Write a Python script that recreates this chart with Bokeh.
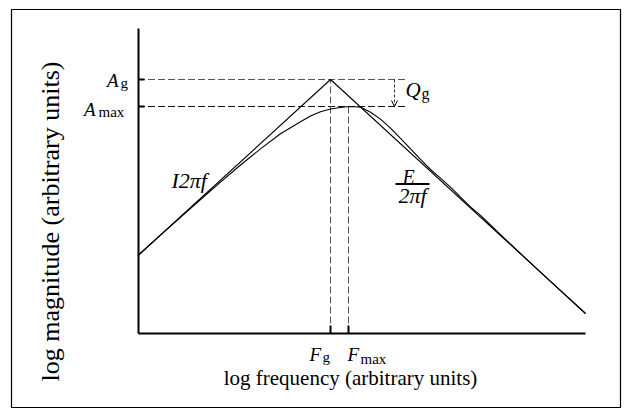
import math
from bokeh.plotting import figure
from bokeh.models import (LinearAxis, FixedTicker, CustomJSTickFormatter, Label,
                          Arrow, OpenHead, Range1d)
from bokeh.embed import file_html
from bokeh.resources import INLINE

# ---------------- data (log units, arbitrary) ----------------
freq_curve = [0.0, 0.503, 0.950, 1.397, 1.844, 2.291, 2.737, 3.184, 3.631, 3.855,
              4.078, 4.302, 4.525, 4.704, 4.860, 4.972, 5.196, 5.419, 5.642, 5.866,
              6.089, 6.313, 6.536, 6.760, 6.983, 7.207, 7.430, 7.654, 7.877, 8.101,
              8.547, 8.994, 9.441, 10.0]
mag_curve = [2.557, 3.223, 3.810, 4.393, 4.964, 5.525, 6.052, 6.548, 6.944, 7.131,
             7.269, 7.361, 7.410, 7.443, 7.436, 7.423, 7.256, 7.030, 6.731, 6.400,
             6.052, 5.708, 5.377, 5.095, 4.797, 4.469, 4.154, 3.872, 3.557, 3.243,
             2.623, 2.013, 1.407, 0.656]
asym_freq = [0.0, 4.302, 10.0]
asym_mag = [2.557, 8.328, 0.656]
F_g = 4.302
F_max = 4.704
A_g = 8.328
A_max = 7.443
axis_end = 10.0

# ---------------- layout constants ----------------
PXX = 44.75   # pixels per x unit
PXY = 30.5    # pixels per y unit
SERIF = "Liberation Serif"

p = figure(width=622, height=409, output_backend="svg", toolbar_location=None,
           x_axis_location=None, y_axis_location=None,
           x_range=Range1d(-2.827, 10.782), y_range=Range1d(-2.426, 10.623),
           min_border_left=11, min_border_right=2, min_border_top=9, min_border_bottom=2)
p.grid.visible = False
p.outline_line_color = "black"
p.outline_line_width = 1.2
p.background_fill_color = "white"
p.border_fill_color = "white"

blank = CustomJSTickFormatter(code="return ''")

yax = LinearAxis(fixed_location=0, bounds=(0, axis_end),
                 ticker=FixedTicker(ticks=[A_max, A_g]), formatter=blank,
                 major_tick_in=6, major_tick_out=0, minor_tick_in=0, minor_tick_out=0,
                 axis_line_width=2, major_tick_line_width=2,
                 axis_line_color="black", major_tick_line_color="black")
xax = LinearAxis(fixed_location=0, bounds=(0, axis_end),
                 ticker=FixedTicker(ticks=[F_g, F_max]), formatter=blank,
                 major_tick_in=8, major_tick_out=0, minor_tick_in=0, minor_tick_out=0,
                 axis_line_width=2, major_tick_line_width=2,
                 axis_line_color="black", major_tick_line_color="black")
p.add_layout(yax, "left")
p.add_layout(xax, "below")

# dashed reference lines
q_x = (394 - 137.5) / PXX
dash_end = (405 - 137.5) / PXX
p.line([0, dash_end], [A_g, A_g], line_color="#555555", line_width=1, line_dash="7 3")
p.line([0, dash_end], [A_max, A_max], line_color="#111111", line_width=1, line_dash="7 3")
p.line([F_g, F_g], [0, A_g], line_color="#555555", line_width=1, line_dash="7 3")
p.line([F_max, F_max], [0, A_max], line_color="#555555", line_width=1, line_dash="7 3")

# asymptotes and response curve
p.line(asym_freq, asym_mag, line_color="black", line_width=1.1)
p.line(freq_curve, mag_curve, line_color="black", line_width=1.1)

# Q_g arrow
p.add_layout(Arrow(end=OpenHead(size=6, line_width=1, line_color="black"),
                   x_start=q_x, y_start=A_g, x_end=q_x, y_end=A_max,
                   line_color="#333333", line_width=1, line_dash="3 2"))

def lab(x, y, text, size, xo=0, yo=0, italic=False, align="left", baseline="alphabetic", angle=0):
    if baseline == "alphabetic":
        yo = yo + 0.22 * size
    p.add_layout(Label(x=x, y=y, text=text, x_offset=xo, y_offset=yo,
                       text_font=SERIF, text_font_size=f"{size}px",
                       text_font_style="italic" if italic else "normal",
                       text_align=align, text_baseline=baseline, angle=angle,
                       text_color="black"))

# axis tick labels
lab(0, A_g, "A", 19, xo=-19.5, yo=-5, italic=True, align="right")
lab(0, A_g, "g", 15, xo=-17.5, yo=-7)
lab(0, A_max, "A", 19, xo=-42.5, yo=-7, italic=True, align="right")
lab(0, A_max, "max", 15, xo=-39.5, yo=-8.5)
lab(F_g, 0, "F", 19, xo=-21, yo=-25, italic=True)
lab(F_g, 0, "g", 15, xo=-8, yo=-27)
lab(F_max, 0, "F", 19, xo=-1, yo=-25, italic=True)
lab(F_max, 0, "max", 15, xo=12, yo=-29)
lab(q_x, A_g, "Q", 21, xo=11, yo=-15, italic=True)
lab(q_x, A_g, "g", 16, xo=27, yo=-17.5)

# asymptote annotations
lab((171 - 137.5) / PXX, (333 - 185) / PXY, "I2πf", 22, italic=True)
fx = (412 - 137.5) / PXX
fy = (333 - 183.5) / PXY
lab(fx, fy, "E", 20, xo=-4, yo=3, italic=True, align="center")
lab(fx, fy, "2πf", 22, xo=0, yo=-16.5, italic=True, align="center")
p.segment(x0=[fx - 17 / PXX], y0=[fy], x1=[fx + 17 / PXX], y1=[fy],
          line_color="black", line_width=1.8)

# axis titles
lab((350 - 137.5) / PXX, (333 - 382) / PXY, "log frequency (arbitrary units)", 21,
    align="center")
lab((49.5 - 137.5) / PXX, (333 - 221) / PXY, "log magnitude (arbitrary units)", 26,
    align="center", baseline="middle", angle=math.pi / 2)

open("out.html", "w").write(file_html(p, INLINE))
